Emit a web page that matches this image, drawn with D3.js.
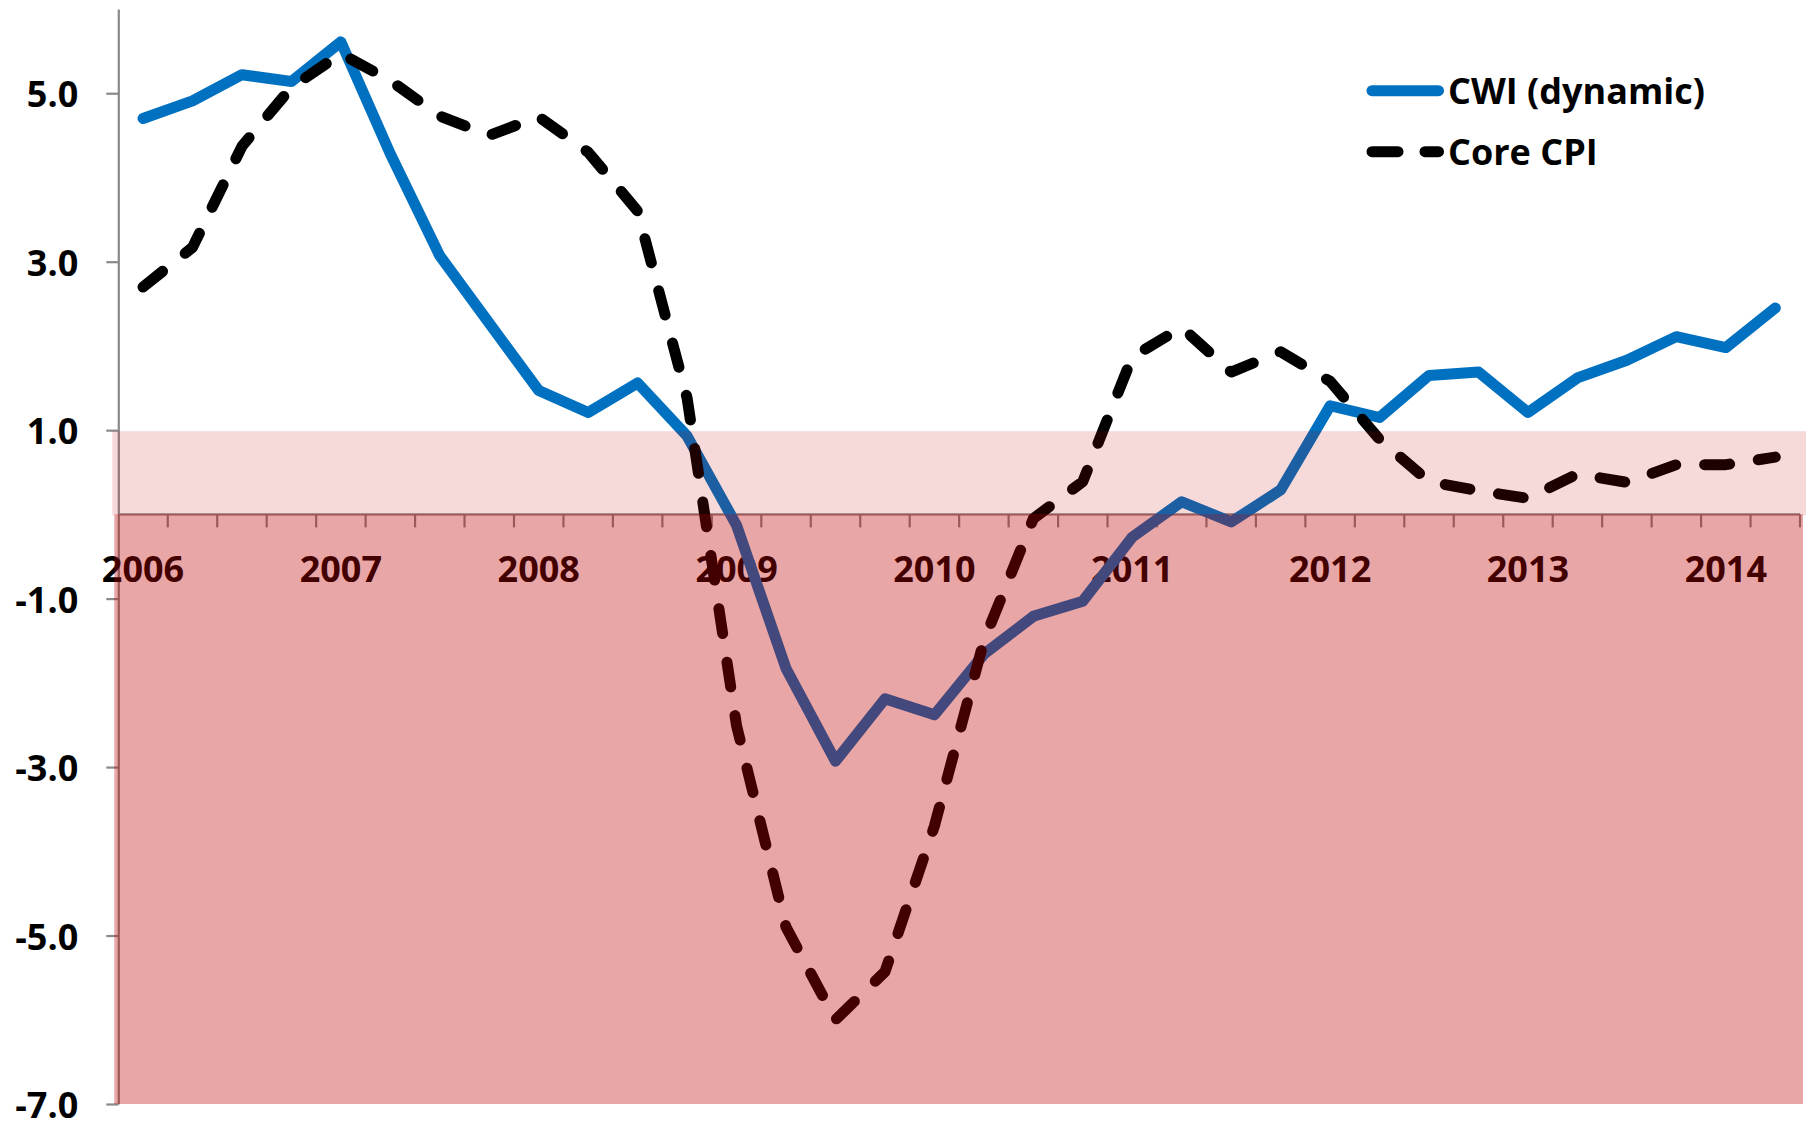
<!DOCTYPE html>
<html>
<head>
<meta charset="utf-8">
<script src="https://cdn.jsdelivr.net/npm/d3@7"></script>
<style>
  html, body { margin: 0; padding: 0; background: #ffffff; }
  svg { display: block; }
  text { font-family: "Open Sans", "DejaVu Sans", sans-serif; font-weight: 700; }
</style>
</head>
<body>
<script>
// ---------------- data ----------------
const quarters = [
  "2006Q1","2006Q2","2006Q3","2006Q4",
  "2007Q1","2007Q2","2007Q3","2007Q4",
  "2008Q1","2008Q2","2008Q3","2008Q4",
  "2009Q1","2009Q2","2009Q3","2009Q4",
  "2010Q1","2010Q2","2010Q3","2010Q4",
  "2011Q1","2011Q2","2011Q3","2011Q4",
  "2012Q1","2012Q2","2012Q3","2012Q4",
  "2013Q1","2013Q2","2013Q3","2013Q4",
  "2014Q1","2014Q2"
];
const yearLabels = ["2006","2007","2008","2009","2010","2011","2012","2013","2014"];
const cwiDynamic = [
  4.70, 4.91, 5.22, 5.14, 5.61, 4.28, 3.07, 2.27,
  1.47, 1.21, 1.56, 0.93, -0.13, -1.83, -2.93, -2.19,
  -2.38, -1.66, -1.21, -1.03, -0.27, 0.15, -0.09, 0.29,
  1.29, 1.15, 1.65, 1.69, 1.21, 1.62, 1.83, 2.11,
  1.98, 2.45
];
const coreCpi = [
  2.70, 3.17, 4.37, 5.07, 5.47, 5.15, 4.73, 4.50,
  4.72, 4.30, 3.60, 1.38, -2.51, -4.90, -6.00, -5.43,
  -3.70, -1.50, -0.05, 0.39, 1.87, 2.22, 1.69, 1.93,
  1.58, 0.89, 0.39, 0.28, 0.19, 0.48, 0.38, 0.59,
  0.59, 0.68
];
const yTickValues = [-7, -5, -3, -1, 1, 3, 5];
const yDomain = [-7, 6];
const bands = [ // shaded zones [low, high, opacity]
  { lo: 0, hi: 1, op: 0.15 },
  { lo: -7, hi: 0, op: 0.35 }
];
const seriesNames = ["CWI (dynamic)", "Core CPI"];

// ---------------- layout ----------------
const W = 1810, H = 1121;
const plotLeft = 118.3, plotRight = 1800, plotTop = 9, plotBottom = 1104;

const svg = d3.select("body").append("svg")
  .attr("width", W).attr("height", H)
  .attr("viewBox", `0 0 ${W} ${H}`);
svg.append("rect").attr("width", W).attr("height", H).attr("fill", "#ffffff");

const x = d3.scaleBand().domain(quarters).range([plotLeft, plotRight]).padding(0);
const xc = q => x(q) + x.bandwidth() / 2;
const y = d3.scaleLinear().domain(yDomain).range([plotBottom, plotTop]);

const axisColor = "#898989";

// y axis
const yAxis = svg.append("g")
  .attr("transform", `translate(${plotLeft},0)`)
  .call(d3.axisLeft(y).tickValues(yTickValues).tickSize(12).tickSizeOuter(0)
        .tickPadding(28).tickFormat(d => d.toFixed(1)));
yAxis.select(".domain").attr("stroke", axisColor).attr("stroke-width", 2.2);
yAxis.selectAll(".tick line").attr("stroke", axisColor).attr("stroke-width", 2.2);
yAxis.selectAll(".tick text")
  .attr("fill", "#000").attr("font-size", 36).attr("dy", "0.38em")
  .style("font-family", "'Open Sans', sans-serif").style("font-weight", 700);

// x axis at zero
const y0 = y(0);
const xAxis = svg.append("g").attr("transform", `translate(0,${y0})`);
xAxis.append("line")
  .attr("x1", plotLeft).attr("x2", plotRight).attr("y1", 0).attr("y2", 0)
  .attr("stroke", axisColor).attr("stroke-width", 2.2);
const boundaries = quarters.map(q => x(q)).concat([x(quarters[quarters.length - 1]) + x.bandwidth()]);
xAxis.selectAll("line.tk").data(boundaries.slice(1)).join("line")
  .attr("class", "tk")
  .attr("x1", d => d).attr("x2", d => d).attr("y1", 0).attr("y2", 13)
  .attr("stroke", axisColor).attr("stroke-width", 2.2);
xAxis.selectAll("text.yr").data(yearLabels).join("text")
  .attr("class", "yr")
  .attr("x", (d, i) => xc(quarters[i * 4]))
  .attr("y", 68)
  .attr("text-anchor", "middle")
  .attr("font-size", 36).attr("fill", "#000")
  .text(d => d);

// lines
const line = d3.line().x((d, i) => xc(quarters[i])).y(d => y(d)).curve(d3.curveLinear);
svg.append("path").datum(cwiDynamic)
  .attr("d", line).attr("fill", "none")
  .attr("stroke", "#0070C0").attr("stroke-width", 11)
  .attr("stroke-linejoin", "round").attr("stroke-linecap", "round");
svg.append("path").datum(coreCpi)
  .attr("d", line).attr("fill", "none")
  .attr("stroke", "#000000").attr("stroke-width", 11)
  .attr("stroke-dasharray", "25,29")
  .attr("stroke-linejoin", "round").attr("stroke-linecap", "round");

// shaded overlay zones (drawn on top, semi-transparent)
svg.selectAll("rect.band").data(bands).join("rect")
  .attr("class", "band")
  .attr("x", d => d.lo === 0 ? plotLeft - 6 : plotLeft - 4)
  .attr("width", d => d.lo === 0 ? (plotRight + 6) - (plotLeft - 6) : (plotRight + 3) - (plotLeft - 4))
  .attr("y", d => d.lo === 0 ? y(d.hi) + 1 : y(d.hi))
  .attr("height", d => y(d.lo) - y(d.hi))
  .attr("fill", "#C00000")
  .attr("fill-opacity", d => d.op);

// legend
const lg = svg.append("g");
const lgX1 = 1372, lgX2 = 1438.5, lgY = [90.7, 151.7];
lg.append("line").attr("x1", lgX1).attr("x2", lgX2).attr("y1", lgY[0]).attr("y2", lgY[0])
  .attr("stroke", "#0070C0").attr("stroke-width", 11).attr("stroke-linecap", "round");
lg.append("line").attr("x1", lgX1).attr("x2", lgX2).attr("y1", lgY[1]).attr("y2", lgY[1])
  .attr("stroke", "#000").attr("stroke-width", 11).attr("stroke-linecap", "round")
  .attr("stroke-dasharray", "26,27");
lg.selectAll("text").data(seriesNames).join("text")
  .attr("x", 1448)
  .attr("y", (d, i) => lgY[i] + 13)
  .attr("font-size", 36).attr("fill", "#000")
  .text(d => d);
</script>
</body>
</html>
